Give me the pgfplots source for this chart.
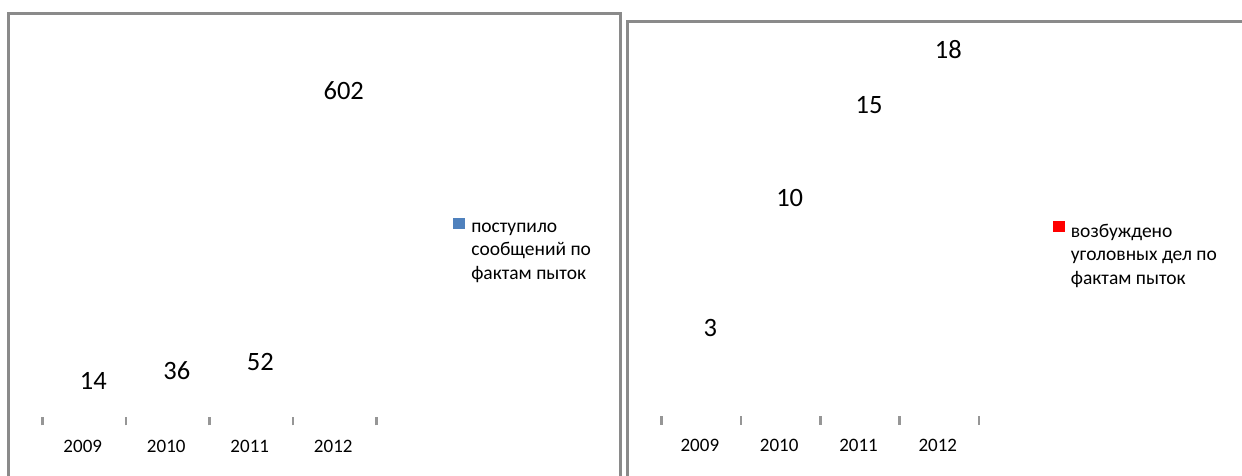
\documentclass[border=0pt]{standalone}
\usepackage{fontspec}
\setmainfont{Carlito}
\usepackage{pgfplots}
\pgfplotsset{compat=1.18}

\definecolor{frame}{RGB}{138,138,138}
\definecolor{tickgray}{RGB}{150,150,150}
\definecolor{blueS}{RGB}{79,129,189}
\definecolor{redS}{RGB}{255,0,0}

\pgfplotsset{
  panel/.style={
    scale only axis,
    /pgf/number format/assume math mode=true,
    axis x line*=bottom,
    x axis line style={draw=none},
    hide y axis,
    xmin=-0.5, xmax=3.5,
    xtick={0,1,2,3},
    xticklabels={2009,2010,2011,2012},
    major tick length=0pt,
    minor xtick={-0.5,0.5,1.5,2.5,3.5},
    minor tick length=8.5pt,
    tick align=center,
    minor tick style={tickgray, line width=2.6pt},
    xticklabel style={font=\fontsize{19}{22}\selectfont, anchor=center, yshift=-25pt, xshift=-1.5pt},
    nodes near coords,
    nodes near coords align=center,
    nodes near coords style={font=\fontsize{26.5}{30}\selectfont, black, xshift=9pt},
    legend cell align=left,
    legend style={draw=none, fill=none, inner sep=0pt,
      font=\fontsize{19.5}{23.5}\selectfont, anchor=north west,
      /tikz/column sep=5pt, cells={align=left}},
    legend image code/.code={\fill[##1] (0pt,24pt) rectangle (11pt,34pt);},
  }
}

\begin{document}
\begin{tikzpicture}
% left panel
\begin{axis}[panel,
  at={(42.5pt,54pt)}, anchor=south west,
  width=334pt, height=358.5pt,
  ymin=-67.1, ymax=660,
  legend style={at={(1.228,0.568)}},
]
\addplot[draw=none, forget plot] coordinates {(0,14) (1,36) (2,52) (3,602)};
\addlegendimage{blueS}
\addlegendentry{поступило\\сообщений по\\фактам пыток}
\end{axis}

% right panel
\begin{axis}[panel,
  at={(661.7pt,54.3pt)}, anchor=south west,
  width=317.3pt, height=408.8pt,
  ymin=-1.98, ymax=20,
  legend style={at={(1.231,0.4896)}},
]
\addplot[draw=none, forget plot] coordinates {(0,3) (1,10) (2,15) (3,18)};
\addlegendimage{redS}
\addlegendentry{возбуждено\\уголовных дел по\\фактам пыток}
\end{axis}

\pgfresetboundingbox
\useasboundingbox (0pt,0pt) rectangle (1242pt,475pt);
\begin{scope}
\clip (0pt,0pt) rectangle (1242pt,475pt);
\draw[frame, line width=3pt] (8.5pt,-10pt) -- (8.5pt,461.5pt) -- (620pt,461.5pt) -- (620pt,-10pt);
\draw[frame, line width=3pt] (627.5pt,-10pt) -- (627.5pt,453.5pt) -- (1260pt,453.5pt);
\end{scope}
\end{tikzpicture}
\end{document}
